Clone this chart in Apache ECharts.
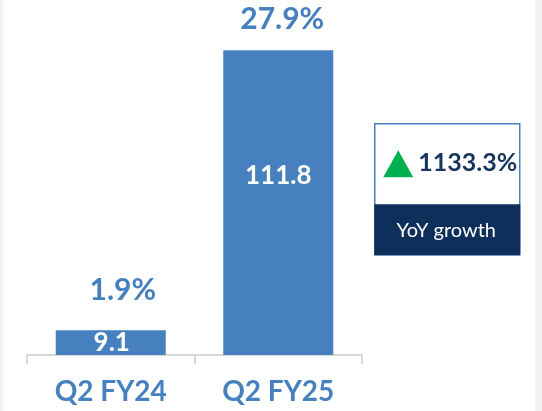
<!DOCTYPE html>
<html>
<head>
<meta charset="utf-8">
<script src="https://cdn.jsdelivr.net/npm/echarts@6/dist/echarts.min.js"></script>
<style>
  html, body { margin: 0; padding: 0; background: #ffffff; }
  #chart { width: 542px; height: 411px; }
</style>
</head>
<body>
<div id="chart"></div>
<script>
// Quarterly values and margins
const categories = ['Q2 FY24', 'Q2 FY25'];
const values = [9.1, 111.8];
const margins = ['1.9%', '27.9%'];
const growthValue = '1133.3%';
const growthCaption = 'YoY growth';

const BLUE = '#4680bf';
const NAVY = '#0e2f5a';
const FONT = 'Lato, "Open Sans", sans-serif';

const chart = echarts.init(document.getElementById('chart'), null, { renderer: 'canvas' });

// per-bar placement of the value label inside and the margin label above
const valueLabelStyle = [
  { offset: [1, 0] },
  { offset: [0, -27] }
];
const marginLabelStyle = [
  { distance: 25, offset: [12, 0] },
  { distance: 16, offset: [4, 0] }
];

chart.setOption({
  animation: false,
  backgroundColor: '#ffffff',
  grid: { left: 27, right: 180, top: 28, bottom: 56 },
  xAxis: {
    type: 'category',
    data: categories,
    boundaryGap: true,
    axisLine: { show: true, lineStyle: { color: '#d9d9d9', width: 2 } },
    axisTick: { show: true, length: 9, lineStyle: { color: '#d9d9d9', width: 2 } },
    axisLabel: {
      color: BLUE, fontFamily: FONT, fontWeight: 'bold', fontSize: 28,
      margin: 23, verticalAlign: 'top'
    },
    z: 1
  },
  yAxis: { type: 'value', min: 0, max: 120, show: false, splitLine: { show: false } },
  series: [
    {
      type: 'bar',
      barWidth: 110,
      itemStyle: { color: BLUE },
      z: 3,
      data: values.map((v, i) => ({
        value: v,
        label: {
          show: true,
          position: 'inside',
          offset: valueLabelStyle[i].offset,
          color: '#ffffff',
          fontFamily: FONT,
          fontWeight: 'bold',
          fontSize: 26
        }
      }))
    },
    {
      type: 'bar',
      barGap: '-100%',
      barWidth: 110,
      silent: true,
      itemStyle: { color: 'rgba(0,0,0,0)' },
      z: 4,
      data: values.map((v, i) => ({
        value: v,
        label: {
          show: true,
          position: 'top',
          distance: marginLabelStyle[i].distance,
          offset: marginLabelStyle[i].offset,
          formatter: margins[i],
          color: BLUE,
          fontFamily: FONT,
          fontWeight: 'bold',
          fontSize: 30
        }
      }))
    }
  ],
  graphic: [
    // light side strips
    { type: 'rect', left: 0, top: 0, shape: { width: 3, height: 411 }, style: { fill: '#f2f2f2' }, z: 0 },
    { type: 'rect', left: 535, top: 0, shape: { width: 7, height: 411 }, style: { fill: '#f2f2f2' }, z: 0 },
    // growth callout
    {
      type: 'group', left: 374, top: 123, z: 10,
      children: [
        { type: 'rect', shape: { x: 0.5, y: 0.5, width: 145, height: 131 },
          style: { fill: '#ffffff', stroke: '#4a7fc0', lineWidth: 1.5 } },
        { type: 'rect', shape: { x: 0, y: 81, width: 146, height: 51 }, style: { fill: NAVY } },
        { type: 'polygon', shape: { points: [[24, 27], [9, 54], [39, 54]] }, style: { fill: '#00b050' } },
        { type: 'text', x: 44, y: 40,
          style: { text: growthValue, fill: '#17365d', font: 'bold 25px ' + FONT,
                   textAlign: 'left', textVerticalAlign: 'middle' } },
        { type: 'text', x: 72, y: 107,
          style: { text: growthCaption, fill: '#ffffff', font: '20px ' + FONT,
                   textAlign: 'center', textVerticalAlign: 'middle' } }
      ]
    }
  ]
});
</script>
</body>
</html>
